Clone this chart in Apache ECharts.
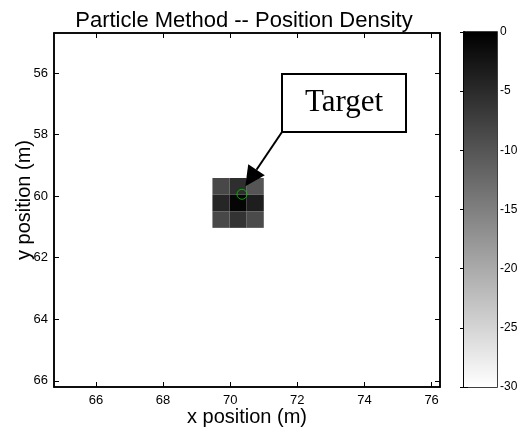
<!DOCTYPE html>
<html>
<head>
<meta charset="utf-8">
<script src="https://cdn.jsdelivr.net/npm/echarts@6/dist/echarts.min.js"></script>
<style>
html,body{margin:0;padding:0;background:#fff;}
#chart{width:523px;height:441px;}
</style>
</head>
<body>
<div id="chart"></div>
<script>
// ---- data ----
const titleText = 'Particle Method -- Position Density';
const xLabel = 'x position (m)';
const yLabel = 'y position (m)';
const xRange = [64.75, 76.25];
const yRange = [54.7, 66.2];
const xTicks = [66, 68, 70, 72, 74, 76];
const yTicks = [56, 58, 60, 62, 64, 66];
const xEdges = [69.47, 69.98, 70.49, 71.0];
const yEdges = [59.41, 59.95, 60.49, 61.03];
// log density, rows from top (small y) to bottom
const densityRow1 = [-8.5, -5.4, -10.0];
const densityRow2 = [-4.5, -0.6, -3.5];
const densityRow3 = [-8.5, -6.0, -8.8];
const colorRange = [-30, 0];
const colorbarTicks = [0, -5, -10, -15, -20, -25, -30];
const targetPos = [70.35, 59.94];
const arrowTip = [70.45, 59.68];
const annotationText = 'Target';

const densityRows = [densityRow1, densityRow2, densityRow3];
const cells = [];
densityRows.forEach((row, r) => {
  row.forEach((v, c) => {
    cells.push([xEdges[c], xEdges[c + 1], yEdges[r], yEdges[r + 1], v]);
  });
});

const FONT = '"Liberation Sans", Arial, Helvetica, sans-serif';
const chart = echarts.init(document.getElementById('chart'), null, {renderer: 'canvas'});

function rectItem(params, api) {
  const p0 = api.coord([api.value(0), api.value(2)]);
  const p1 = api.coord([api.value(1), api.value(3)]);
  return {
    type: 'rect',
    shape: {
      x: Math.min(p0[0], p1[0]), y: Math.min(p0[1], p1[1]),
      width: Math.abs(p1[0] - p0[0]), height: Math.abs(p1[1] - p0[1])
    },
    style: {fill: api.visual('color')}
  };
}

function colorbarItem(params, api) {
  const p0 = api.coord([api.value(0), api.value(3)]);
  const p1 = api.coord([api.value(1), api.value(2)]);
  return {
    type: 'rect',
    shape: {x: p0[0], y: p0[1], width: p1[0] - p0[0], height: p1[1] - p0[1]},
    style: {
      fill: new echarts.graphic.LinearGradient(0, 0, 0, 1, [
        {offset: 0, color: '#000000'},
        {offset: 1, color: '#ffffff'}
      ])
    }
  };
}

const axisLineStyle = {show: true, lineStyle: {color: '#000', width: 1.5}};
const tickStyle = {show: true, inside: true, length: 5, lineStyle: {color: '#000', width: 1}};

chart.setOption({
  animation: false,
  backgroundColor: '#fff',
  title: {
    text: titleText, left: 239, top: 5, textAlign: 'center',
    textStyle: {fontFamily: FONT, fontSize: 22, fontWeight: 'normal', color: '#000'}
  },
  grid: [
    {left: 54, top: 33, width: 386, height: 354, show: true, borderColor: '#000', borderWidth: 1.5,
      backgroundColor: '#fff', outerBoundsMode: 'none', containLabel: false},
    {left: 464, top: 32, width: 33, height: 355, show: true, borderColor: '#000', borderWidth: 1.5,
      outerBoundsMode: 'none', containLabel: false}
  ],
  visualMap: {
    type: 'continuous', show: false, min: colorRange[0], max: colorRange[1],
    dimension: 4, seriesIndex: 0, inRange: {color: ['#ffffff', '#000000']}
  },
  xAxis: [
    {gridIndex: 0, type: 'value', min: xRange[0], max: xRange[1], position: 'bottom',
      axisLine: axisLineStyle, axisTick: Object.assign({customValues: xTicks}, tickStyle),
      axisLabel: {customValues: xTicks, fontFamily: FONT, fontSize: 13, color: '#000', margin: 7},
      splitLine: {show: false},
      name: xLabel, nameLocation: 'middle', nameGap: 20, nameMoveOverlap: false,
      nameTextStyle: {fontFamily: FONT, fontSize: 20, color: '#000'}},
    {gridIndex: 0, type: 'value', min: xRange[0], max: xRange[1], position: 'top',
      axisLine: axisLineStyle, axisTick: Object.assign({customValues: xTicks}, tickStyle),
      axisLabel: {show: false}, splitLine: {show: false}},
    {gridIndex: 1, type: 'value', min: 0, max: 1, show: false}
  ],
  yAxis: [
    {gridIndex: 0, type: 'value', min: yRange[0], max: yRange[1], inverse: true, position: 'left',
      axisLine: axisLineStyle, axisTick: Object.assign({customValues: yTicks}, tickStyle),
      axisLabel: {customValues: yTicks, fontFamily: FONT, fontSize: 13, color: '#000', margin: 6},
      splitLine: {show: false},
      name: yLabel, nameLocation: 'middle', nameGap: 20, nameRotate: 90, nameMoveOverlap: false,
      nameTextStyle: {fontFamily: FONT, fontSize: 20, color: '#000', padding: [0, 0, 0, 20]}},
    {gridIndex: 0, type: 'value', min: yRange[0], max: yRange[1], inverse: true, position: 'right',
      axisLine: axisLineStyle, axisTick: Object.assign({customValues: yTicks}, tickStyle),
      axisLabel: {show: false}, splitLine: {show: false}},
    {gridIndex: 1, type: 'value', min: colorRange[0], max: colorRange[1], position: 'right',
      axisLine: axisLineStyle, axisTick: Object.assign({customValues: colorbarTicks}, tickStyle, {length: 4}),
      axisLabel: {customValues: colorbarTicks, fontFamily: FONT, fontSize: 12, color: '#000', margin: 3},
      splitLine: {show: false}},
    {gridIndex: 1, type: 'value', min: colorRange[0], max: colorRange[1], position: 'left',
      axisLine: axisLineStyle, axisTick: Object.assign({customValues: colorbarTicks}, tickStyle, {length: 4}),
      axisLabel: {show: false}, splitLine: {show: false}}
  ],
  series: [
    {type: 'custom', xAxisIndex: 0, yAxisIndex: 0, renderItem: rectItem,
      encode: {x: [0, 1], y: [2, 3]}, data: cells, z: 2},
    {type: 'scatter', xAxisIndex: 0, yAxisIndex: 0, data: [targetPos], symbol: 'circle', symbolSize: 10,
      itemStyle: {color: 'rgba(0,0,0,0)', borderColor: '#00cc00', borderWidth: 1}, z: 5, silent: true},
    {type: 'custom', xAxisIndex: 2, yAxisIndex: 2, renderItem: colorbarItem,
      encode: {x: [0, 1], y: [2, 3]}, data: [[0, 1, colorRange[0], colorRange[1]]], z: 1}
  ]
});

// annotation (figure-level text box with arrow to target)
const tip = chart.convertToPixel({xAxisIndex: 0, yAxisIndex: 0}, arrowTip);
const box = {x: 282, y: 74, w: 124, h: 58};
const start = [box.x, box.y + box.h];
const dx = tip[0] - start[0], dy = tip[1] - start[1];
const len = Math.sqrt(dx * dx + dy * dy);
const ux = dx / len, uy = dy / len;
const headLen = 20, headHalf = 10;
const bx = tip[0] - headLen * ux, by = tip[1] - headLen * uy;
const nx = -uy, ny = ux;
chart.setOption({
  graphic: [
    {type: 'rect', z: 100, shape: {x: box.x, y: box.y, width: box.w, height: box.h},
      style: {fill: '#fff', stroke: '#000', lineWidth: 2}},
    {type: 'text', z: 101, x: box.x + box.w / 2, y: box.y + box.h / 2,
      style: {text: annotationText, fontFamily: '"Liberation Serif", "Times New Roman", serif', fontSize: 31,
        fill: '#000', align: 'center', verticalAlign: 'middle'}},
    {type: 'line', z: 100, shape: {x1: start[0], y1: start[1], x2: bx, y2: by},
      style: {stroke: '#000', lineWidth: 2}},
    {type: 'polygon', z: 100, shape: {points: [[tip[0], tip[1]], [bx + headHalf * nx, by + headHalf * ny], [bx - headHalf * nx, by - headHalf * ny]]},
      style: {fill: '#000'}}
  ]
});
</script>
</body>
</html>
